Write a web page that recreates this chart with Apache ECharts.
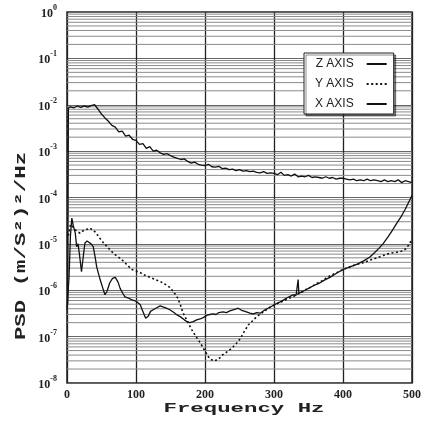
<!DOCTYPE html>
<html>
<head>
<meta charset="utf-8">
<script src="https://cdn.jsdelivr.net/npm/echarts@6/dist/echarts.min.js"></script>
<style>
  html, body { margin: 0; padding: 0; background: #fff; }
  #chart { width: 426px; height: 421px; }
</style>
</head>
<body>
<div id="chart"></div>
<script>
// Z AXIS (solid)
var zFreq = [1, 2, 5, 10, 15, 20, 25, 30, 35, 40, 45, 50, 55, 60, 65, 70, 75, 80, 85, 90, 95, 100,
	105, 110, 115, 120, 125, 130, 135, 140, 145, 150, 155, 160, 165, 170, 175, 180, 185, 190, 195, 200,
	205, 210, 215, 220, 225, 230, 235, 240, 245, 250, 255, 260, 265, 270, 275, 280, 285, 290, 295, 300,
	305, 310, 315, 320, 325, 330, 335, 340, 345, 350, 355, 360, 365, 370, 375, 380, 385, 390, 395, 400,
	405, 410, 415, 420, 425, 430, 435, 440, 445, 450, 455, 460, 465, 470, 475, 480, 485, 490, 495, 500];
var zPsd = [5e-7, 8.5e-3, 9.0e-3, 8.6e-3, 9.4e-3, 8.8e-3, 9.5e-3, 8.9e-3, 9.6e-3, 1.0e-2, 8.0e-3, 6.3e-3, 5.2e-3, 4.4e-3, 3.6e-3, 3.3e-3, 2.6e-3, 2.7e-3, 2.1e-3, 2.2e-3, 1.8e-3, 1.7e-3,
	1.4e-3, 1.45e-3, 1.15e-3, 1.25e-3, 1.0e-3, 1.05e-3, 9.2e-4, 8.5e-4, 8.8e-4, 8.0e-4, 7.4e-4, 7.0e-4, 6.6e-4, 6.8e-4, 6.0e-4, 5.5e-4, 5.8e-4, 5.2e-4, 5.0e-4, 4.9e-4,
	5.2e-4, 4.6e-4, 4.5e-4, 4.7e-4, 4.2e-4, 4.3e-4, 4.0e-4, 4.1e-4, 3.8e-4, 4.0e-4, 3.7e-4, 3.8e-4, 3.6e-4, 3.7e-4, 3.5e-4, 3.4e-4, 3.6e-4, 3.3e-4, 3.4e-4, 3.3e-4,
	3.1e-4, 3.5e-4, 3.0e-4, 3.1e-4, 2.9e-4, 3.2e-4, 2.8e-4, 2.9e-4, 2.8e-4, 3.0e-4, 2.7e-4, 2.8e-4, 2.7e-4, 2.6e-4, 2.8e-4, 2.6e-4, 2.7e-4, 2.5e-4, 2.6e-4, 2.6e-4,
	2.5e-4, 2.4e-4, 2.5e-4, 2.3e-4, 2.4e-4, 2.3e-4, 2.5e-4, 2.3e-4, 2.4e-4, 2.3e-4, 2.2e-4, 2.4e-4, 2.2e-4, 2.3e-4, 2.2e-4, 2.4e-4, 2.1e-4, 2.3e-4, 2.2e-4, 2.1e-4];

// Y AXIS (dotted)
var yFreq = [2, 5, 8, 12, 16, 19, 23, 26, 30, 33, 37, 41, 45, 48, 53, 58, 64, 70, 76, 82, 88, 94, 100,
	106, 113, 120, 128, 135, 142, 149, 155, 160, 164, 168, 174, 181, 187, 193, 198, 203, 207, 213, 219,
	226, 233, 239, 245, 251, 257, 263, 269, 275, 282, 289, 296, 303, 309, 315, 322, 328, 334, 340, 347,
	355, 362, 370, 377, 384, 391, 398, 405, 412, 420, 429, 438, 449, 458, 468, 478, 486, 492, 497, 500];
var yPsd = [1.5e-5, 2.6e-5, 2.4e-5, 2.0e-5, 1.8e-5, 1.7e-5, 1.9e-5, 2.0e-5, 2.1e-5, 2.2e-5, 2.0e-5, 1.8e-5, 1.5e-5, 1.3e-5, 1.05e-5, 8.7e-6, 7.0e-6, 5.8e-6, 5.0e-6, 4.2e-6, 3.4e-6, 2.8e-6, 2.6e-6,
	2.4e-6, 2.1e-6, 1.9e-6, 1.7e-6, 1.55e-6, 1.35e-6, 1.15e-6, 9e-7, 7e-7, 5e-7, 3.3e-7, 2.2e-7, 1.4e-7, 1e-7, 7.4e-8, 5.5e-8, 4.1e-8, 3.3e-8, 3.0e-8, 3.2e-8,
	4.1e-8, 4.8e-8, 5.7e-8, 7e-8, 9e-8, 1.3e-7, 1.8e-7, 2.2e-7, 2.7e-7, 3.2e-7, 3.8e-7, 4.5e-7, 5.0e-7, 5.5e-7, 6.0e-7, 6.7e-7, 7.3e-7, 8.2e-7, 9e-7, 1.05e-6,
	1.2e-6, 1.4e-6, 1.6e-6, 1.9e-6, 2.15e-6, 2.4e-6, 2.7e-6, 3.0e-6, 3.3e-6, 3.6e-6, 3.9e-6, 4.4e-6, 5.0e-6, 5.6e-6, 6.3e-6, 6.6e-6, 7.0e-6, 8.0e-6, 1.05e-5, 1.3e-5];

// X AXIS (solid)
var xFreq = [0, 3, 5, 7, 9, 12, 14, 16, 18, 21, 24, 26, 29, 31, 35, 38, 41, 43, 48, 52, 55, 58, 62, 66, 70, 74, 77, 81, 84, 89, 94, 100,
	106, 110, 114, 118, 121, 125, 130, 135, 139, 144, 149, 155, 160, 164, 170, 174, 178, 183, 188, 193, 198,
	203, 207, 212, 216, 220, 226, 231, 236, 242, 248, 253, 258, 265, 270, 275, 280, 287, 294, 300,
	305, 309, 314, 319, 324, 328, 332, 335, 336, 340, 345, 350, 357, 365, 373, 381, 390, 400,
	410, 420, 430, 439, 446, 452, 458, 465, 472, 478, 484, 490, 495, 500];
var xPsd = [3.8e-7, 2e-6, 1.5e-5, 3.6e-5, 2.5e-5, 1.7e-5, 8.7e-6, 1.0e-5, 6e-6, 2.5e-6, 6e-6, 1.05e-5, 1.15e-5, 1.2e-5, 1.0e-5, 8.7e-6, 5e-6, 3.2e-6, 1.7e-6, 1.1e-6, 8e-7, 9.5e-7, 1.45e-6, 1.8e-6, 1.9e-6, 1.5e-6, 1.1e-6, 8.5e-7, 7.2e-7, 6.8e-7, 6.2e-7, 5.8e-7,
	4.9e-7, 3.5e-7, 2.5e-7, 2.8e-7, 3.5e-7, 3.8e-7, 4.2e-7, 4.6e-7, 4.4e-7, 4.1e-7, 3.8e-7, 3.3e-7, 2.9e-7, 2.7e-7, 2.3e-7, 2.1e-7, 2.0e-7, 2.1e-7, 2.3e-7, 2.4e-7, 2.6e-7,
	2.9e-7, 3.0e-7, 3.1e-7, 3.0e-7, 3.3e-7, 3.4e-7, 3.3e-7, 3.6e-7, 3.8e-7, 4.1e-7, 3.7e-7, 3.5e-7, 3.2e-7, 3.1e-7, 3.3e-7, 3.2e-7, 3.8e-7, 4.3e-7, 4.8e-7,
	5.3e-7, 5.6e-7, 6.2e-7, 6.9e-7, 7.5e-7, 8.0e-7, 7.8e-7, 1.7e-6, 8.5e-7, 9.2e-7, 1.0e-6, 1.1e-6, 1.25e-6, 1.4e-6, 1.65e-6, 1.9e-6, 2.3e-6, 2.8e-6,
	3.2e-6, 3.6e-6, 4.3e-6, 5.2e-6, 6.5e-6, 8e-6, 1.0e-5, 1.4e-5, 2.0e-5, 2.8e-5, 3.8e-5, 5.5e-5, 7.8e-5, 1.1e-4];

var seriesNames = ['Z AXIS', 'Y AXIS', 'X AXIS'];
var xTicks = [0, 100, 200, 300, 400, 500];

function pairs(fs, vs) {
	var out = [];
	for (var i = 0; i < fs.length; i++) out.push([fs[i], vs[i]]);
	return out;
}

// log grid lines inside each decade (2..9 x 10^n)
var minorLines = [];
for (var e = -8; e < 0; e++) {
	for (var m = 2; m <= 9; m++) {
		minorLines.push([0, m * Math.pow(10, e)]);
	}
}

var dom = document.getElementById('chart');
var myChart = echarts.init(dom);

var monoFont = '"Liberation Mono", "DejaVu Sans Mono", monospace';
var serifFont = '"Liberation Serif", "DejaVu Serif", serif';

var option = {
	animation: false,
	backgroundColor: '#fff',
	grid: {
		left: 67,
		right: 14,
		top: 12,
		bottom: 38,
		show: true,
		borderColor: '#222',
		borderWidth: 1.5,
		backgroundColor: 'transparent'
	},
	legend: {
		orient: 'vertical',
		left: 304,
		top: 53,
		align: 'right',
		itemWidth: 20,
		itemHeight: 12,
		itemGap: 8,
		padding: [5, 6, 4, 11],
		backgroundColor: '#fff',
		borderColor: '#222',
		borderWidth: 1,
		shadowColor: 'rgba(0,0,0,0.45)',
		shadowOffsetX: 2,
		shadowOffsetY: 2,
		itemStyle: { color: 'rgba(0,0,0,0)', borderWidth: 0 },
		textStyle: {
			fontFamily: '"Liberation Sans", Arial, sans-serif',
			fontSize: 12,
			color: '#222',
			padding: [0, 8, 0, 0]
		},
		data: seriesNames
	},
	xAxis: {
		type: 'value',
		min: 0,
		max: 500,
		interval: 100,
		axisLine: { show: false },
		axisTick: { show: false },
		axisLabel: {
			margin: 6,
			color: '#222',
			fontFamily: serifFont,
			fontWeight: 'bold',
			fontSize: 12,
			formatter: function (v) {
				return xTicks.indexOf(v) >= 0 ? String(v) : '';
			}
		},
		splitLine: { show: true, lineStyle: { color: '#222', width: 1.3 } }
	},
	yAxis: {
		type: 'log',
		logBase: 10,
		min: 1e-8,
		max: 1,
		axisLine: { show: false },
		axisTick: { show: false },
		axisLabel: {
			margin: 10,
			color: '#222',
			formatter: function (v) {
				var p = Math.round(Math.log(v) / Math.LN10);
				return '{b|10}{s|' + p + '}';
			},
			rich: {
				b: { fontFamily: serifFont, fontWeight: 'bold', fontSize: 12, lineHeight: 16, verticalAlign: 'bottom' },
				s: { fontFamily: serifFont, fontWeight: 'bold', fontSize: 8, lineHeight: 16, verticalAlign: 'top' }
			}
		},
		splitLine: { show: true, lineStyle: { color: '#666', width: 1 } }
	},
	graphic: [
		{
			type: 'text',
			x: 244,
			y: 409,
			scaleX: 1.72,
			style: {
				text: 'Frequency Hz',
				font: 'bold 13px ' + monoFont,
				fill: '#222',
				textAlign: 'center',
				textVerticalAlign: 'middle'
			}
		},
		{
			type: 'text',
			x: 21,
			y: 246,
			rotation: Math.PI / 2,
			scaleX: 1.6,
			style: {
				text: 'PSD (m/S\u00b2)\u00b2/Hz',
				font: 'bold 14px ' + monoFont,
				fill: '#222',
				textAlign: 'center',
				textVerticalAlign: 'middle'
			}
		}
	],
	series: [
		{
			name: 'grid',
			type: 'custom',
			z: 1,
			silent: true,
			encode: { x: 0, y: 1 },
			clip: true,
			renderItem: function (params, api) {
				var v = api.value(1);
				var p1 = api.coord([0, v]);
				var p2 = api.coord([500, v]);
				return {
					type: 'line',
					shape: { x1: p1[0], y1: p1[1], x2: p2[0], y2: p2[1] },
					style: { stroke: '#8a8a8a', lineWidth: 1 }
				};
			},
			data: minorLines
		},
		{
			name: seriesNames[0],
			type: 'line',
			z: 3,
			showSymbol: false,
			symbol: 'none',
			lineStyle: { color: '#111', width: 1.3 },
			itemStyle: { color: '#111' },
			data: pairs(zFreq, zPsd)
		},
		{
			name: seriesNames[1],
			type: 'line',
			z: 3,
			showSymbol: false,
			symbol: 'none',
			lineStyle: { color: '#111', width: 1.6, type: [2, 2.5] },
			itemStyle: { color: '#111' },
			data: pairs(yFreq, yPsd)
		},
		{
			name: seriesNames[2],
			type: 'line',
			z: 3,
			showSymbol: false,
			symbol: 'none',
			lineStyle: { color: '#111', width: 1.3 },
			itemStyle: { color: '#111' },
			data: pairs(xFreq, xPsd)
		}
	]
};

myChart.setOption(option);
</script>
</body>
</html>
